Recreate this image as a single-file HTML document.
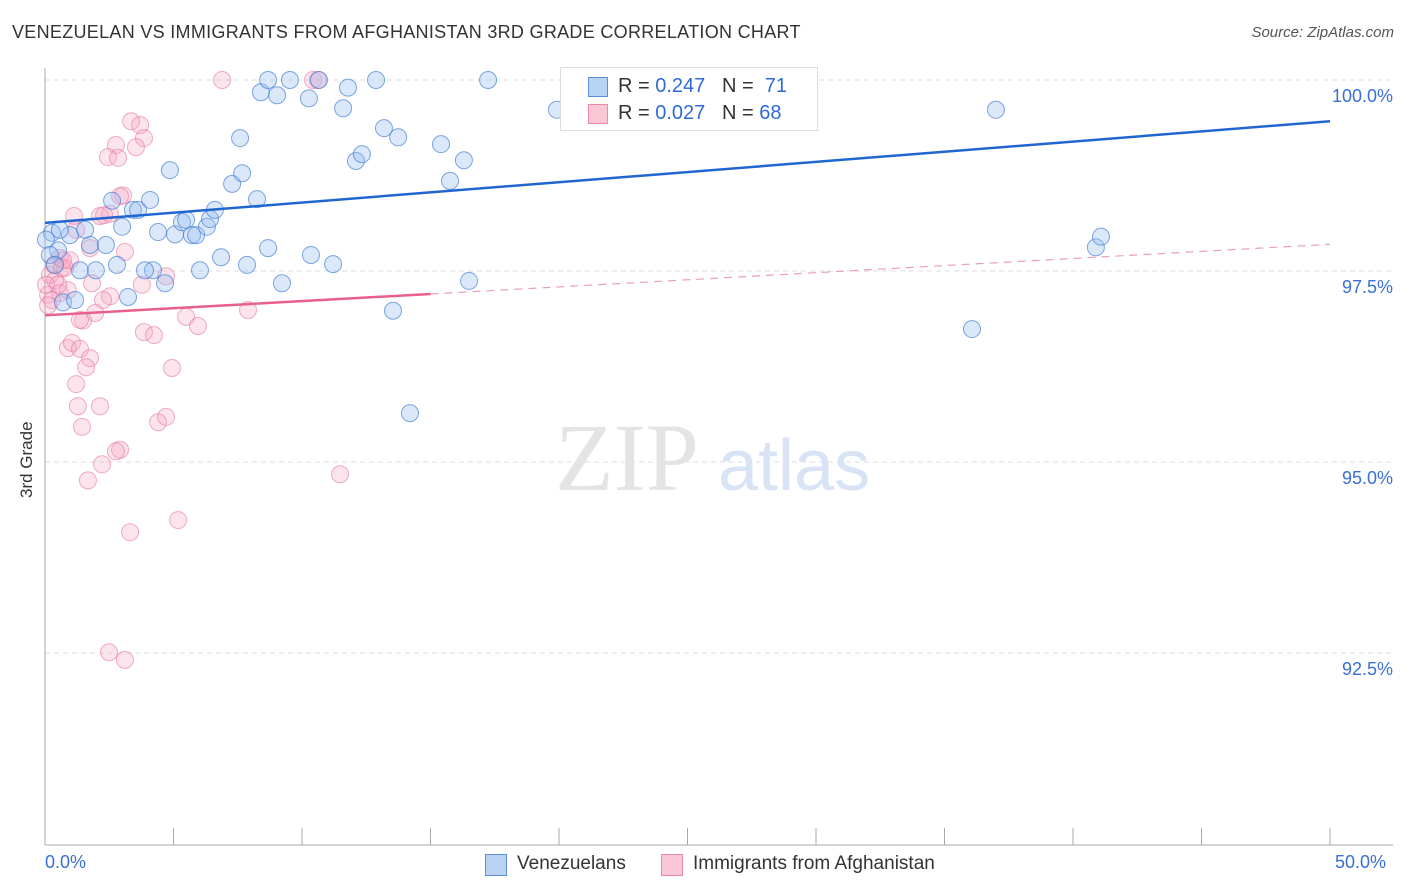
<!DOCTYPE html>
<html><head><meta charset="utf-8">
<style>
body{margin:0;background:#fff;font-family:"Liberation Sans",sans-serif;}
#wrap{position:relative;width:1406px;height:892px;overflow:hidden;}
.t{position:absolute;white-space:nowrap;}
</style></head>
<body>
<div id="wrap">
<div class="t" style="left:12px;top:22px;font-size:18px;color:#333;letter-spacing:0.3px;">VENEZUELAN VS IMMIGRANTS FROM AFGHANISTAN 3RD GRADE CORRELATION CHART</div>
<div class="t" style="right:12px;top:24px;font-size:15px;color:#555;font-style:italic;">Source: ZipAtlas.com</div>
<div class="t" style="left:17px;top:498px;font-size:17px;color:#333;transform:rotate(-90deg);transform-origin:left top;">3rd Grade</div>
<svg id="svg" width="1406" height="892" style="position:absolute;left:0;top:0"></svg>
</div>
<script>
const xTicks=[0,5,10,15,20,25,30,35,40,45,50];
const yTicks=[92.5,95,97.5,100];
const yTickLabels=["92.5%","95.0%","97.5%","100.0%"];
const blueX=[0.27,0.51,0.70,0.97,1.36,1.75,1.98,2.37,2.61,2.80,3.00,3.23,3.42,3.62,4.09,4.20,3.89,4.67,4.40,4.86,5.06,5.33,5.49,5.72,5.88,6.03,6.30,6.42,6.61,6.85,7.28,7.59,7.67,7.86,8.25,8.40,8.68,8.68,9.03,9.22,9.53,10.27,10.35,10.66,11.21,11.60,11.79,12.10,12.33,12.88,13.19,13.54,13.74,14.20,15.41,15.76,16.30,16.50,17.24,19.92,21.40,36.07,37.00,40.89,41.09,0.04,0.19,0.39,0.58,1.17,1.56];
const blueY=[98.00,97.77,97.09,97.97,97.51,97.84,97.51,97.84,98.42,97.58,98.08,97.16,98.30,98.30,98.43,97.51,97.51,97.34,98.01,98.82,97.98,98.14,98.17,97.97,97.97,97.51,98.08,98.18,98.30,97.68,98.64,99.24,98.78,97.58,98.44,99.84,100.00,97.80,99.80,97.34,100.00,99.76,97.71,100.00,97.59,99.63,99.90,98.94,99.03,100.00,99.37,96.98,99.25,95.64,99.16,98.68,98.95,97.37,100.00,99.61,100.00,96.74,99.61,97.81,97.95,97.91,97.71,97.58,98.04,97.12,98.04];
const pinkX=[6.89,10.43,10.62,3.35,3.70,3.85,3.54,2.76,2.45,2.84,3.04,2.92,1.13,2.14,2.53,1.21,1.75,3.11,0.58,0.78,0.19,0.39,0.58,0.12,0.27,0.89,1.83,2.53,2.26,3.77,4.71,1.95,1.48,3.85,4.24,5.49,5.95,7.90,0.89,1.05,1.36,1.75,1.60,4.94,1.21,1.28,2.14,1.44,4.40,4.71,2.92,2.76,2.22,1.67,11.48,5.18,3.31,2.49,3.11,2.30,0.51,0.35,0.66,0.04,0.97,0.12,1.36,0.70];
const pinkY=[100.00,100.00,100.00,99.46,99.41,99.24,99.12,99.15,98.99,98.98,98.49,98.48,98.22,98.22,98.25,98.04,97.80,97.75,97.67,97.54,97.45,97.38,97.21,97.19,97.12,97.25,97.34,97.17,97.12,97.32,97.43,96.95,96.85,96.70,96.66,96.90,96.78,96.99,96.49,96.56,96.48,96.36,96.24,96.23,96.02,95.73,95.73,95.46,95.52,95.59,95.16,95.14,94.97,94.76,94.84,94.24,94.08,92.51,92.41,98.23,97.32,97.58,97.54,97.32,97.64,97.05,96.86,97.64];
const blueTrend=[98.13,99.46];
const pinkTrend=[96.92,97.85];
const pinkSolidEnd=15;

const X0=45,X1=1330,Y100=80,PX=76.4;
const sx=v=>X0+(v/50)*(X1-X0);
const sy=v=>Y100+(100-v)*PX;
const svg=document.getElementById('svg');
const NS='http://www.w3.org/2000/svg';
function mk(tag,attrs,name){const e=document.createElementNS(NS,tag);for(const k in attrs)e.setAttribute(k,attrs[k]);


svg.appendChild(e);return e;}
yTicks.forEach((v,i)=>{
 mk('line',{x1:X0,x2:1393,y1:sy(v),y2:sy(v),stroke:'#ddd','stroke-dasharray':'5,4'},'gridline');
 const t=mk('text',{x:1393,y:sy(v)+22,'text-anchor':'end','font-size':18,fill:'#3a6fd8','font-family':'Liberation Sans'},'y-tick-label');
 t.textContent=yTickLabels[i];
});
mk('line',{x1:X0,x2:X0,y1:68,y2:845,stroke:'#aaa'},'y-axis-line');
mk('line',{x1:X0,x2:1393,y1:845,y2:845,stroke:'#aaa'},'x-axis-line');
xTicks.forEach(v=>{mk('line',{x1:sx(v),x2:sx(v),y1:828,y2:845,stroke:'#aaa'},'x-tick');});
const wm1=mk('text',{x:555,y:490,'font-size':96,fill:'#e4e4e4','font-family':'Liberation Serif'},'watermark-zip');wm1.textContent='ZIP';
const wm2=mk('text',{x:718,y:490,'font-size':72,fill:'#d8e4f5','font-family':'Liberation Sans'},'watermark-atlas');wm2.textContent='atlas';
pinkX.forEach((x,i)=>mk('circle',{cx:sx(x),cy:sy(pinkY[i]),r:8.5,fill:'rgba(245,165,195,0.3)',stroke:'rgba(230,120,160,0.6)','stroke-width':1},'pink-point'));
blueX.forEach((x,i)=>mk('circle',{cx:sx(x),cy:sy(blueY[i]),r:8.5,fill:'rgba(150,190,240,0.35)',stroke:'rgba(60,120,210,0.65)','stroke-width':1},'blue-point'));
const py=x=>pinkTrend[0]+(pinkTrend[1]-pinkTrend[0])*x/50;
mk('line',{x1:sx(0),y1:sy(blueTrend[0]),x2:sx(50),y2:sy(blueTrend[1]),stroke:'#2066d0','stroke-width':2.5},'blue-trend-line');
mk('line',{x1:sx(0),y1:sy(py(0)),x2:sx(pinkSolidEnd),y2:sy(py(pinkSolidEnd)),stroke:'#e8608a','stroke-width':2.5},'pink-trend-line');
mk('line',{x1:sx(pinkSolidEnd),y1:sy(py(pinkSolidEnd)),x2:sx(50),y2:sy(py(50)),stroke:'#e8a0b8','stroke-width':1.2,'stroke-dasharray':'8,6'},'pink-trend-extension');
</script>
<div style="position:absolute;left:560px;top:67px;width:256px;height:62px;border:1px solid #ddd;background:#fff;font-size:20px;">
 <div style="position:absolute;left:27px;top:9px;width:18px;height:18px;background:#b9d3f3;border:1px solid #5b8fd8;"></div>
 <div class="t" style="left:57px;top:7px;color:#333;">R = <span style="color:#2e6bd6">0.247</span>&nbsp;&nbsp;&nbsp;N = &nbsp;<span style="color:#2e6bd6">71</span></div>
 <div style="position:absolute;left:27px;top:36px;width:18px;height:18px;background:#f9c6d6;border:1px solid #e88aa8;"></div>
 <div class="t" style="left:57px;top:34px;color:#333;">R = <span style="color:#2e6bd6">0.027</span>&nbsp;&nbsp;&nbsp;N = <span style="color:#2e6bd6">68</span></div>
</div>
<div class="t" style="left:45px;top:852px;font-size:18px;color:#3a6fd8;">0.0%</div>
<div class="t" style="left:1335px;top:852px;font-size:18px;color:#3a6fd8;">50.0%</div>
<div style="position:absolute;left:485px;top:853px;">
 <div style="position:absolute;left:0;top:1px;width:20px;height:20px;background:#b9d3f3;border:1px solid #5b8fd8;"></div>
 <div class="t" style="left:32px;top:0;font-size:19px;color:#333;">Venezuelans</div>
</div>
<div style="position:absolute;left:661px;top:853px;">
 <div style="position:absolute;left:0;top:1px;width:20px;height:20px;background:#f9c6d6;border:1px solid #e88aa8;"></div>
 <div class="t" style="left:32px;top:0;font-size:19px;color:#333;">Immigrants from Afghanistan</div>
</div>
</body></html>
